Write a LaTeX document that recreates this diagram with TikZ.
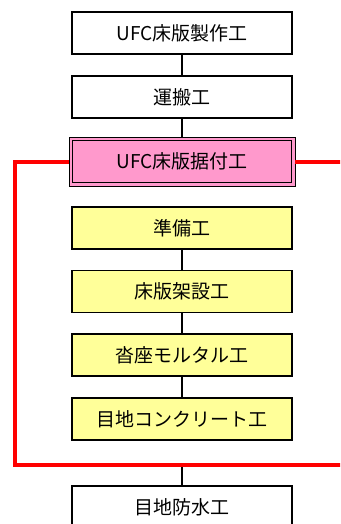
\documentclass[tikz,border=0pt]{standalone}
\usepackage{fontspec}
\newfontfamily\cjk{Noto Sans CJK JP}
\usetikzlibrary{backgrounds,calc}
\definecolor{boxyellow}{HTML}{FFFF99}
\definecolor{boxpink}{HTML}{FF99CC}
\definecolor{redline}{HTML}{FF0000}
\begin{document}
\begin{tikzpicture}[x=1pt,y=-1pt,
  stepbox/.style={draw=black, line width=1.8pt, minimum width=220pt, minimum height=42pt,
    inner sep=0pt, font=\cjk\fontsize{19}{19}\selectfont, text=black},
  whitebox/.style={stepbox, fill=white},
  yellowbox/.style={stepbox, fill=boxyellow},
  pinkbox/.style={stepbox, fill=boxpink, minimum width=219pt, minimum height=42pt},
  conn/.style={draw=black, line width=1.4pt},
  redconn/.style={draw=redline, line width=3.6pt}]
\clip (0,0) rectangle (340,524);
\node[whitebox] (n1) at (182,33) {UFC床版製作工};
\node[whitebox] (n2) at (182,97) {運搬工};
\node[pinkbox] (n3) at (182,161.5) {UFC床版据付工};
\node[yellowbox] (n4) at (182,228) {準備工};
\node[yellowbox] (n5) at (182,291.5) {床版架設工};
\node[yellowbox] (n6) at (182,355) {沓座モルタル工};
\node[yellowbox] (n7) at (182,419) {目地コンクリート工};
\node[whitebox] (n8) at (182,507) {目地防水工};
\begin{scope}[on background layer]
  \draw[line width=0.9pt, fill=boxpink] ($(n3.north west)+(-2.6,-2.6)$) coordinate (p3nw)
    rectangle ($(n3.south east)+(2.6,2.6)$) coordinate (p3se);
\end{scope}
\coordinate (p3w) at ($(n3.west)+(-3,0)$);
\coordinate (p3e) at ($(n3.east)+(3,0)$);
\coordinate (rtl) at (15,162);
\coordinate (rbl) at (15,465);
\coordinate (rtr) at (341,162);
\coordinate (rbr) at (341,465);
\coordinate (rbm) at (182,465);
\draw[conn] (n1) -- (n2);
\draw[conn] (n2) -- (p3nw -| n2.south);
\draw[conn] (n4) -- (n5);
\draw[conn] (n5) -- (n6);
\draw[conn] (n6) -- (n7);
\draw[conn] (rbm) -- (n8.north);
\draw[redconn] (p3w |- rtl) -- (rtl) -- (rbl) -- (rbr);
\draw[redconn] (p3e |- rtr) -- (rtr);
\end{tikzpicture}
\end{document}
